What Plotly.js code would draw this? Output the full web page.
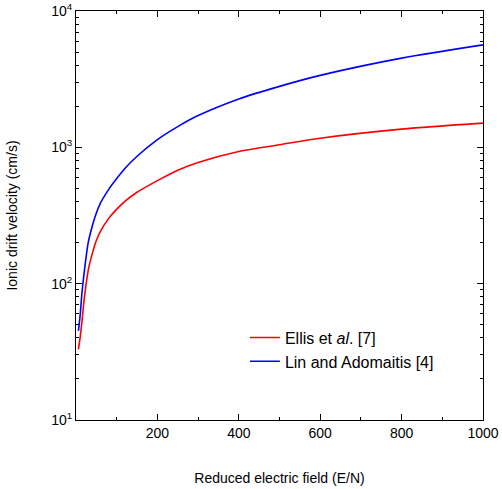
<!DOCTYPE html>
<html>
<head>
<meta charset="utf-8">
<script src="https://cdn.plot.ly/plotly-3.0.1.min.js"></script>
<style>html,body{margin:0;padding:0;background:#fff;}#chart{width:502px;height:489px;}</style>
</head>
<body>
<div id="chart"></div>
<script>
const fieldEN = [6, 10, 15, 20, 30, 40, 50, 60, 80, 100, 120, 150, 200, 250, 300, 400, 500, 600, 800, 1000];
const ellisVelocity = [33, 40, 54, 76, 125, 166, 207, 242, 300, 352, 402, 468, 570, 680, 775, 932, 1045, 1167, 1360, 1505];
const linVelocity = [45, 58, 88, 120, 200, 265, 330, 390, 490, 590, 700, 860, 1140, 1420, 1710, 2265, 2800, 3370, 4510, 5640];
const xTickVals = [200, 400, 600, 800, 1000];
const xMinorVals = [100, 300, 500, 700, 900];
const yTickVals = [10, 100, 1000, 10000];
const yMinorVals = [20, 30, 40, 50, 60, 70, 80, 90, 200, 300, 400, 500, 600, 700, 800, 900, 2000, 3000, 4000, 5000, 6000, 7000, 8000, 9000];
const yTickText = ['10<sup>1</sup>', '10<sup>2</sup>', '10<sup>3</sup>', '10<sup>4</sup>'];
const seriesNames = ['Ellis et <i>al</i>. [7]', 'Lin and Adomaitis [4]'];

const font = {family: 'Liberation Sans, Arial, sans-serif', size: 14, color: '#000'};
const legendFont = {family: 'Liberation Sans, Arial, sans-serif', size: 16, color: '#000'};

const traces = [
  {x: fieldEN, y: ellisVelocity, name: seriesNames[0], mode: 'lines', line: {color: '#ff0000', width: 1.6, shape: 'spline', smoothing: 0.8}},
  {x: fieldEN, y: linVelocity, name: seriesNames[1], mode: 'lines', line: {color: '#0000ff', width: 1.6, shape: 'spline', smoothing: 0.8}}
];

const layout = {
  width: 502, height: 489,
  margin: {l: 76, r: 19, t: 11, b: 69},
  paper_bgcolor: '#fff', plot_bgcolor: '#fff',
  font: font,
  showlegend: true,
  legend: {x: 0.415, y: 0.243, xanchor: 'left', yanchor: 'top', bgcolor: 'rgba(0,0,0,0)', font: legendFont, tracegroupgap: 0},
  xaxis: {
    range: [0, 1000], tickvals: xTickVals, ticktext: xTickVals.map(String),
    ticks: 'inside', ticklen: 6, tickwidth: 1, tickcolor: '#000',
    showline: true, linecolor: '#000', linewidth: 1, mirror: 'ticks',
    showgrid: false, zeroline: false,
    minor: {ticks: 'inside', ticklen: 3, tickmode: 'array', tickvals: xMinorVals, tickcolor: '#000', showgrid: false},
    title: {text: 'Reduced electric field (E/N)', font: font, standoff: 33},
    tickfont: font
  },
  yaxis: {
    type: 'log', range: [1, 4], tickvals: yTickVals, ticktext: yTickText,
    ticks: 'inside', ticklen: 6, tickwidth: 1, tickcolor: '#000',
    showline: true, linecolor: '#000', linewidth: 1, mirror: 'ticks',
    showgrid: false, zeroline: false,
    minor: {ticks: 'inside', ticklen: 3, tickmode: 'array', tickvals: yMinorVals, tickcolor: '#000', showgrid: false},
    title: {text: 'Ionic drift velocity (cm/s)', font: font, standoff: 30},
    tickfont: font
  }
};

Plotly.newPlot('chart', traces, layout, {displayModeBar: false, staticPlot: true});
</script>
</body>
</html>
